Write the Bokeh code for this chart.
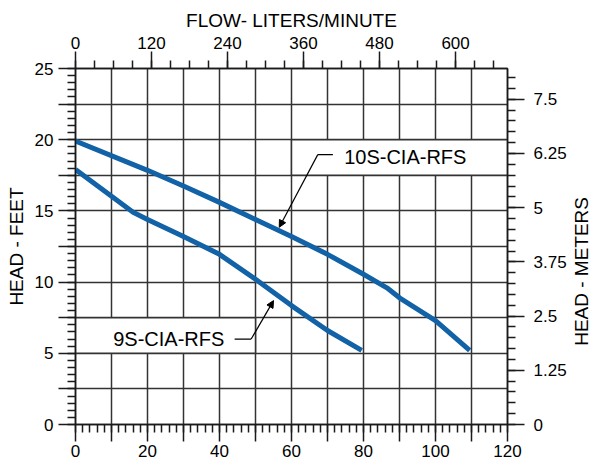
import math
from bokeh.plotting import figure
from bokeh.layouts import row
from bokeh.models import LinearAxis, Range1d, FixedTicker, Arrow, NormalHead, ColumnDataSource
from bokeh.core.properties import value
from bokeh.embed import file_html
from bokeh.resources import INLINE

# ---- data ----
flow_gpm_10s = [0, 20, 30, 40, 50, 60, 70, 80, 86.5, 90, 100, 109.5]
head_ft_10s = [19.9, 17.85, 16.75, 15.6, 14.4, 13.2, 11.95, 10.55, 9.6, 8.9, 7.3, 5.2]
flow_gpm_9s = [0, 16, 20, 30, 40, 50, 60, 70, 79.5]
head_ft_9s = [17.9, 14.9, 14.4, 13.2, 11.95, 10.2, 8.35, 6.6, 5.2]
curve_names = ["10S-CIA-RFS", "9S-CIA-RFS"]

bottom_major = [0, 10, 20, 30, 40, 50, 60, 70, 80, 90, 100, 110, 120]
bottom_labels = ["0", "", "20", "", "40", "", "60", "", "80", "", "100", "", "120"]
top_major = [0, 120, 240, 360, 480, 600]
top_labels = ["0", "120", "240", "360", "480", "600"]
left_major = [0, 2.5, 5, 7.5, 10, 12.5, 15, 17.5, 20, 22.5, 25]
left_labels = ["0", "", "5", "", "10", "", "15", "", "20", "", "25"]
right_major = [0, 1.25, 2.5, 3.75, 5, 6.25, 7.5]
right_labels = ["0", "1.25", "2.5", "3.75", "5", "6.25", "7.5"]
right_title = "HEAD - METERS"

X_MAX, Y_MAX = 120, 25
LPM_MAX, M_MAX = 682, 8.21

# annotation geometry (data coordinates)
box_10s = dict(left=60, right=120, bottom=17.5, top=20)
box_9s = dict(left=0, right=50, bottom=5, top=7.5)
label_pos_10s = (91.6, 18.8)
label_pos_9s = (25.9, 6.0)
leader_10s = [(71.5, 18.95), (67.3, 18.95), (56.6, 13.85)]
leader_9s = [(44.2, 6.0), (48.8, 6.0), (55.0, 8.7)]

FONT = "Liberation Sans"
INK = "#1a1a1a"
GRID = "#333333"
BLUE = "#1262a8"

W_MAIN, W_SIDE, H = 569, 23, 461

p = figure(width=W_MAIN, height=H, x_range=Range1d(0, X_MAX), y_range=Range1d(0, Y_MAX),
           output_backend="svg", toolbar_location=None,
           min_border_left=75, min_border_right=62, min_border_top=68, min_border_bottom=37)
p.extra_x_ranges = {"lpm": Range1d(0, LPM_MAX)}
p.extra_y_ranges = {"m": Range1d(0, M_MAX)}

p.outline_line_color = INK
p.outline_line_width = 1.5
p.background_fill_color = "white"
p.border_fill_color = "white"

def frange(a, b, s):
    out, v = [], a
    while v <= b + 1e-9:
        out.append(round(v, 4))
        v += s
    return out

def style_axis(ax, label_size="17px"):
    ax.axis_line_color = INK
    ax.axis_line_width = 1.5
    ax.major_tick_line_color = INK
    ax.major_tick_line_width = 1.5
    ax.minor_tick_line_color = INK
    ax.minor_tick_line_width = 1.5
    ax.major_tick_out = 17
    ax.major_tick_in = 0
    ax.minor_tick_out = 8
    ax.minor_tick_in = 0
    ax.major_label_text_font = FONT
    ax.major_label_text_font_size = label_size
    ax.major_label_text_color = "black"
    ax.major_label_standoff = 3
    ax.axis_label_text_font = FONT
    ax.axis_label_text_font_size = "19px"
    ax.axis_label_text_font_style = "normal"
    ax.axis_label_text_color = "black"
    ax.axis_label_standoff = 3

# bottom axis
xb = p.xaxis[0]
xb.ticker = FixedTicker(ticks=bottom_major, minor_ticks=frange(0, X_MAX, 2))
xb.major_label_overrides = {t: l for t, l in zip(bottom_major, bottom_labels)}
style_axis(xb)
xb.axis_label_standoff = 0

# left axis
yl = p.yaxis[0]
yl.ticker = FixedTicker(ticks=left_major, minor_ticks=frange(0, Y_MAX, 0.5))
yl.major_label_overrides = {t: l for t, l in zip(left_major, left_labels)}
yl.axis_label = "HEAD - FEET"
style_axis(yl)
yl.major_label_standoff = 5
yl.axis_label_standoff = 5

# top axis
xt = LinearAxis(x_range_name="lpm", axis_label="FLOW- LITERS/MINUTE")
xt.ticker = FixedTicker(ticks=top_major, minor_ticks=frange(0, LPM_MAX, 30))
xt.major_label_overrides = {t: l for t, l in zip(top_major, top_labels)}
style_axis(xt)
p.add_layout(xt, "above")

# right axis (its title is drawn in the narrow side panel)
yr = LinearAxis(y_range_name="m")
yr.ticker = FixedTicker(ticks=right_major, minor_ticks=frange(0, M_MAX, 0.25))
yr.major_label_overrides = {t: l for t, l in zip(right_major, right_labels)}
style_axis(yr)
yr.major_label_standoff = 9
yr.axis_label_standoff = 0
p.add_layout(yr, "right")

# grid
for g in (p.xgrid[0], p.ygrid[0]):
    g.grid_line_color = GRID
    g.grid_line_width = 1.5
    g.grid_line_alpha = 1.0

# white label boxes
for b in (box_10s, box_9s):
    p.quad(left=b["left"], right=b["right"], bottom=b["bottom"], top=b["top"],
           fill_color="white", line_color=GRID, line_width=1.5)

# curves
p.line(flow_gpm_10s, head_ft_10s, line_color=BLUE, line_width=5, line_join="round")
p.line(flow_gpm_9s, head_ft_9s, line_color=BLUE, line_width=5, line_join="round")

# leaders
for pts in (leader_10s, leader_9s):
    p.line([pts[0][0], pts[1][0]], [pts[0][1], pts[1][1]], line_color="black", line_width=1.2)
    p.add_layout(Arrow(end=NormalHead(size=7, fill_color="black", line_color="black", line_width=1),
                       x_start=pts[1][0], y_start=pts[1][1], x_end=pts[2][0], y_end=pts[2][1],
                       line_color="black", line_width=1.2))

# curve labels
src = ColumnDataSource(dict(x=[label_pos_10s[0], label_pos_9s[0]],
                            y=[label_pos_10s[1], label_pos_9s[1]],
                            t=curve_names))
p.text(x="x", y="y", text="t", source=src, text_font=value(FONT), text_font_size="20px",
       text_align="center", text_baseline="middle", text_color="black")

# narrow side panel holding the right-hand axis title (reads bottom to top)
side = figure(width=W_SIDE, height=H, x_range=Range1d(0, 1), y_range=Range1d(0, 1),
              output_backend="svg", toolbar_location=None,
              min_border_left=0, min_border_right=0, min_border_top=0, min_border_bottom=0)
side.axis.visible = False
side.grid.visible = False
side.outline_line_color = None
side.background_fill_color = "white"
side.border_fill_color = "white"
side.text(x=[0.5], y=[0.43], text=[right_title], angle=math.pi / 2,
          text_font=value(FONT), text_font_size="19px", text_align="center",
          text_baseline="middle", text_color="black")

layout = row(p, side, spacing=0)
open("out.html", "w").write(file_html(layout, INLINE))
